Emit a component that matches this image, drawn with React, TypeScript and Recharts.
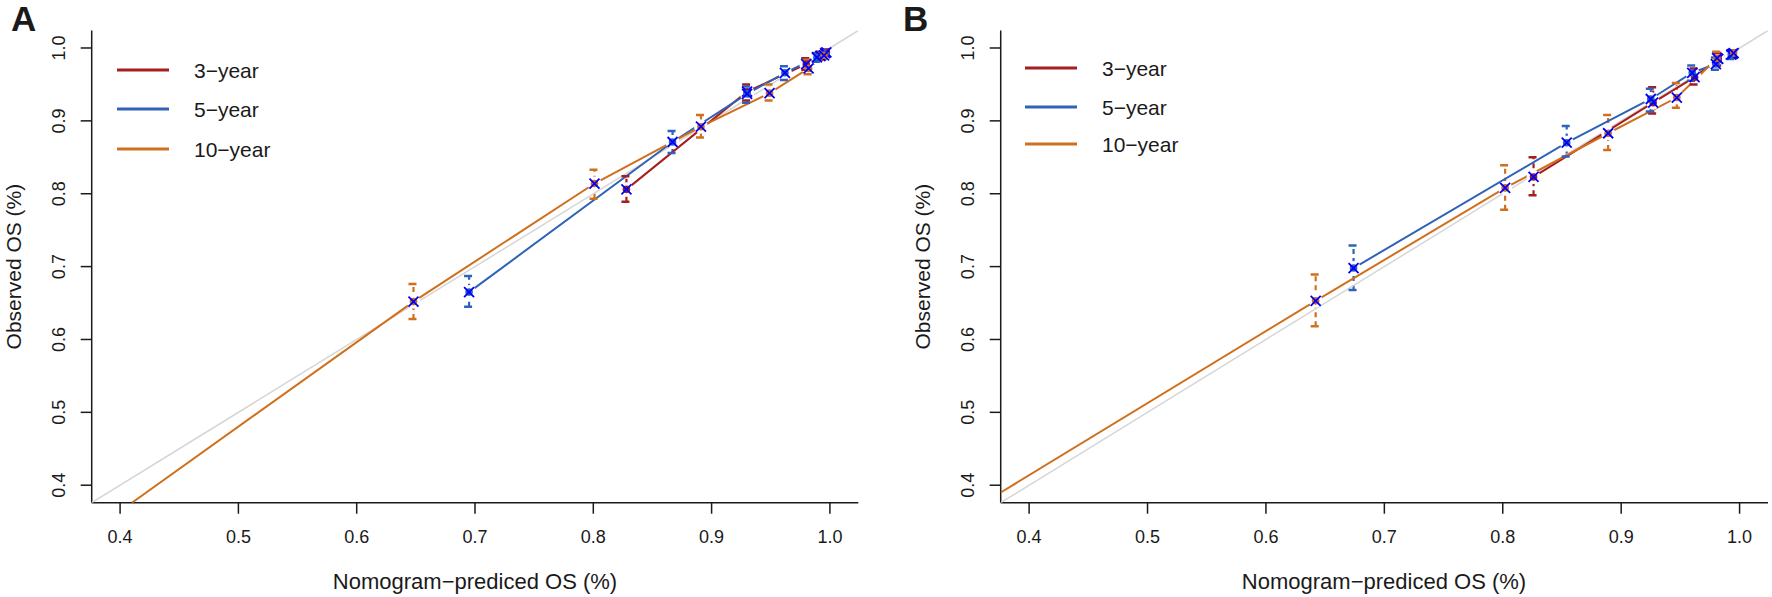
import React from "react";
import { ComposedChart, Scatter, XAxis, YAxis, ErrorBar } from "recharts";

const TICKS = [0.4, 0.5, 0.6, 0.7, 0.8, 0.9, 1.0];
const DOMAIN: [number, number] = [0.376, 1.024];
const SERIES_LABELS = ["3−year", "5−year", "10−year"];
const SERIES_COLORS = ["#A61E1E", "#2E63B8", "#D0701C"];
const X_TITLE = "Nomogram−prediced OS (%)";
const Y_TITLE = "Observed OS (%)";

// rows: [predicted, observed, lower CI, upper CI]
const A_3YEAR = [
  [0.828, 0.806, 0.789, 0.824],
  [0.93, 0.94, 0.928, 0.95],
  [0.98, 0.978, 0.97, 0.986],
  [0.992, 0.989, 0.984, 0.995],
  [0.997, 0.994, 0.99, 0.998],
];
const A_5YEAR = [
  [0.695, 0.665, 0.645, 0.687],
  [0.867, 0.871, 0.856, 0.886],
  [0.93, 0.937, 0.925, 0.947],
  [0.962, 0.966, 0.956, 0.975],
  [0.989, 0.987, 0.981, 0.993],
  [0.996, 0.993, 0.989, 0.997],
];
const A_10YEAR = [
  [0.648, 0.652, 0.628, 0.676],
  [0.801, 0.814, 0.793, 0.833],
  [0.891, 0.892, 0.877, 0.908],
  [0.949, 0.938, 0.928, 0.95],
  [0.982, 0.972, 0.964, 0.984],
  [0.995, 0.99, 0.985, 0.995],
];
// curve continues below the first group
const A_10YEAR_TAIL = [0.41, 0.376];

const B_3YEAR = [
  [0.826, 0.823, 0.798, 0.85],
  [0.927, 0.925, 0.91, 0.946],
  [0.962, 0.96, 0.95, 0.972],
  [0.982, 0.985, 0.976, 0.993],
  [0.994, 0.992, 0.987, 0.997],
];
const B_5YEAR = [
  [0.674, 0.698, 0.668, 0.729],
  [0.854, 0.87, 0.851, 0.893],
  [0.925, 0.93, 0.913, 0.944],
  [0.96, 0.966, 0.955, 0.976],
  [0.98, 0.978, 0.97, 0.987],
  [0.993, 0.991, 0.985, 0.996],
];
const B_10YEAR = [
  [0.642, 0.653, 0.618, 0.689],
  [0.802, 0.808, 0.778, 0.839],
  [0.889, 0.883, 0.86, 0.908],
  [0.947, 0.932, 0.918, 0.952],
  [0.981, 0.986, 0.978, 0.995],
  [0.995, 0.993, 0.988, 0.997],
];
const B_10YEAR_TAIL = [0.376, 0.39];

const DIAG = [
  { x: DOMAIN[0], y: DOMAIN[0] },
  { x: DOMAIN[1], y: DOMAIN[1] },
];

const FONT = "'Liberation Sans', Arial, Helvetica, sans-serif";
const INK = "#1a1a1a";

type Row = number[];

const toPts = (rows: Row[]) =>
  rows.map(([x, y, lo, hi]) => ({ x, y, lo, hi, err: [y - lo, hi - y] }));

const Empty = () => <g />;

const gapShape = (p: any) => <circle cx={p.cx} cy={p.cy} r={7} fill="#fff" />;

const capShape = (color: string) => (p: any) => (
  <line x1={p.cx - 5} x2={p.cx + 3} y1={p.cy} y2={p.cy} stroke={color} strokeWidth={2.5} />
);

const markShape = (color: string) => (p: any) => (
  <g>
    <circle cx={p.cx} cy={p.cy} r={3.8} fill={color} />
    <path
      d={`M${p.cx - 5},${p.cy - 5}L${p.cx + 5},${p.cy + 5}M${p.cx - 5},${p.cy + 5}L${p.cx + 5},${p.cy - 5}`}
      stroke="#0000FF"
      strokeWidth={1.8}
    />
  </g>
);

function YTick(props: any) {
  const { x, y, payload } = props;
  return (
    <text
      x={x}
      y={y}
      transform={`rotate(-90 ${x} ${y})`}
      textAnchor="middle"
      fontSize={18}
      fill={INK}
    >
      {Number(payload.value).toFixed(1)}
    </text>
  );
}

type PanelProps = {
  series: Row[][];
  tail: Row;
  margin: { top: number; right: number; bottom: number; left: number };
};

function Panel({ series, tail, margin }: PanelProps) {
  const pts = series.map(toPts);
  const lines = pts.map((p, i) => (i === 2 ? [{ x: tail[0], y: tail[1] }, ...p] : p));
  const caps = pts.map((p) => p.flatMap((d) => [{ x: d.x, y: d.lo }, { x: d.x, y: d.hi }]));
  return (
    <ComposedChart width={886} height={597} margin={margin}>
      <XAxis
        type="number"
        dataKey="x"
        domain={DOMAIN}
        ticks={TICKS}
        allowDataOverflow
        tickFormatter={(v: number) => v.toFixed(1)}
        tickSize={11}
        tickMargin={17}
        height={60}
        stroke={INK}
        strokeWidth={1.5}
        tick={{ fill: INK, fontSize: 18 }}
      />
      <YAxis
        type="number"
        dataKey="y"
        domain={DOMAIN}
        ticks={TICKS}
        allowDataOverflow
        width={60}
        tickSize={11}
        tickMargin={16}
        stroke={INK}
        strokeWidth={1.5}
        tick={<YTick />}
      />
      <Scatter
        data={DIAG}
        line={{ stroke: "#D6D6D6", strokeWidth: 1.5 }}
        shape={Empty}
        isAnimationActive={false}
      />
      {lines.map((d, i) => (
        <Scatter
          key={"l" + i}
          data={d}
          line={{ stroke: SERIES_COLORS[i], strokeWidth: 2 }}
          lineType="joint"
          shape={Empty}
          isAnimationActive={false}
        />
      ))}
      {pts.map((d, i) => (
        <Scatter key={"g" + i} data={d} shape={gapShape} isAnimationActive={false} />
      ))}
      {pts.map((d, i) => (
        <Scatter key={"e" + i} data={d} shape={Empty} isAnimationActive={false}>
          <ErrorBar
            dataKey="err"
            direction="y"
            width={0}
            stroke={SERIES_COLORS[i]}
            strokeWidth={2.2}
            strokeDasharray="5 4"
            isAnimationActive={false}
          />
        </Scatter>
      ))}
      {caps.map((d, i) => (
        <Scatter
          key={"c" + i}
          data={d}
          shape={capShape(SERIES_COLORS[i])}
          isAnimationActive={false}
        />
      ))}
      {pts.map((d, i) => (
        <Scatter
          key={"m" + i}
          data={d}
          shape={markShape(SERIES_COLORS[i])}
          isAnimationActive={false}
        />
      ))}
    </ComposedChart>
  );
}

function Decor({ ox, letter, axisX, centerX, legend }: any) {
  const cy = 266.6;
  const yt = axisX - 71;
  return (
    <g fontFamily={FONT} fill={INK}>
      <text x={ox + 11} y={31} fontSize={35} fontWeight="bold">
        {letter}
      </text>
      {SERIES_LABELS.map((s, i) => (
        <g key={s}>
          <line
            x1={legend.x1}
            x2={legend.x2}
            y1={legend.ys[i]}
            y2={legend.ys[i]}
            stroke={SERIES_COLORS[i]}
            strokeWidth={3}
          />
          <text x={legend.tx} y={legend.ys[i] + 8} fontSize={21}>
            {s}
          </text>
        </g>
      ))}
      <text x={centerX} y={589} fontSize={22} textAnchor="middle">
        {X_TITLE}
      </text>
      <text x={yt} y={cy} fontSize={21} textAnchor="middle" transform={`rotate(-90 ${yt} ${cy})`}>
        {Y_TITLE}
      </text>
    </g>
  );
}

export default function App() {
  return (
    <div style={{ position: "relative", width: 1772, height: 597, fontFamily: FONT }}>
      <style>{"body{margin:0;background:#fff}"}</style>
      <div style={{ position: "absolute", left: 0, top: 0 }}>
        <Panel
          series={[A_3YEAR, A_5YEAR, A_10YEAR]}
          tail={A_10YEAR_TAIL}
          margin={{ top: 30.5, right: 27.7, bottom: 34.3, left: 31.7 }}
        />
      </div>
      <div style={{ position: "absolute", left: 886, top: 0 }}>
        <Panel
          series={[B_3YEAR, B_5YEAR, B_10YEAR]}
          tail={B_10YEAR_TAIL}
          margin={{ top: 30.5, right: 4, bottom: 34.3, left: 54.7 }}
        />
      </div>
      <svg
        width={1772}
        height={597}
        style={{ position: "absolute", left: 0, top: 0, pointerEvents: "none" }}
      >
        <Decor
          ox={0}
          letter="A"
          axisX={91.7}
          centerX={475}
          legend={{ x1: 117, x2: 169, tx: 194, ys: [70, 109, 149] }}
        />
        <Decor
          ox={892}
          letter="B"
          axisX={1000.7}
          centerX={1384}
          legend={{ x1: 1025, x2: 1077, tx: 1102, ys: [68, 107, 144] }}
        />
      </svg>
    </div>
  );
}
